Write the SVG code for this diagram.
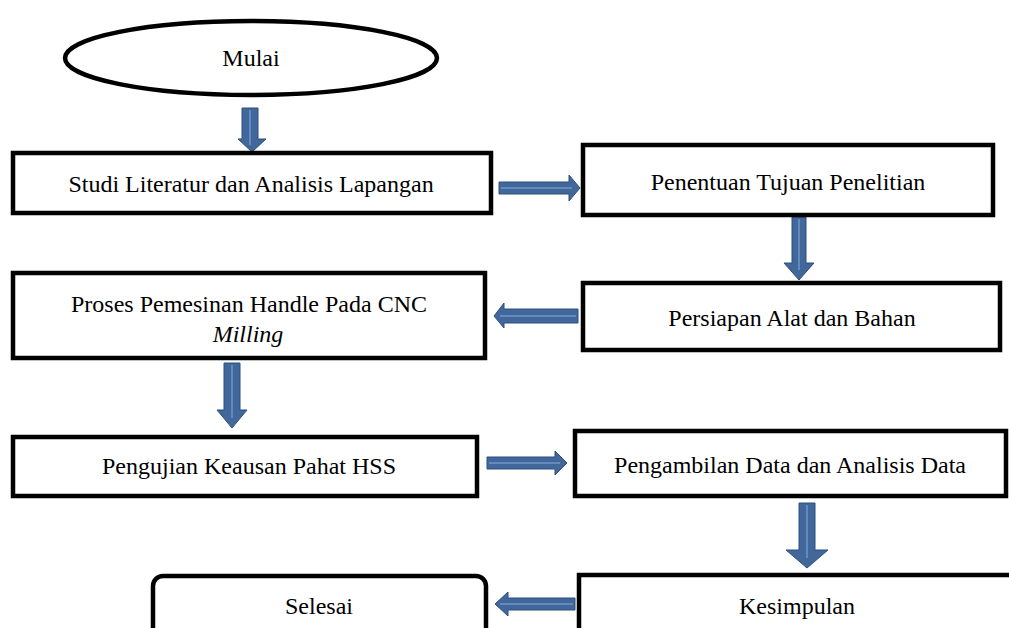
<svg xmlns="http://www.w3.org/2000/svg" width="1009" height="628" viewBox="0 0 1009 628">
<style>
.box{fill:#fff;stroke:#000;stroke-width:4.5}
.t{font-family:'Liberation Serif','Times New Roman',Times,serif;font-size:24px;fill:#000;text-anchor:middle;dominant-baseline:central}
.arr{fill:#41679b;stroke:#2d4f7e;stroke-width:1}
.hl{stroke:#6f95c8;stroke-width:1.5;fill:none}
</style>
<rect width="1009" height="628" fill="#fff"/>
<g id="connectors">
  <g id="a1"><path class="arr" d="M242,108 H258 V139 H266 L252,152 L238,139 H242 Z"/><path class="hl" d="M250,110 V145"/></g>
  <g id="a2"><path class="arr" d="M499,182 H569 V175 L580,188 L569,201 V194 H499 Z"/><path class="hl" d="M501,188 H572"/></g>
  <g id="a3"><path class="arr" d="M792,217 H806 V263 H814 L799,280 L784,263 H792 Z"/><path class="hl" d="M799,219 V270"/></g>
  <g id="a4"><path class="arr" d="M578,309 H504 V303 L494,316 L504,328 V323 H578 Z"/><path class="hl" d="M576,316 H500"/></g>
  <g id="a5"><path class="arr" d="M224,363 H240 V410 H247 L232,428 L217,410 H224 Z"/><path class="hl" d="M232,365 V418"/></g>
  <g id="a6"><path class="arr" d="M487,457 H555 V451 L567,463 L555,475 V469 H487 Z"/><path class="hl" d="M489,463 H560"/></g>
  <g id="a7"><path class="arr" d="M799,503 H815 V550 H828 L807,568 L786,550 H799 Z"/><path class="hl" d="M807,505 V558"/></g>
  <g id="a8"><path class="arr" d="M575,598 H508 V592 L495,604 L508,616 V610 H575 Z"/><path class="hl" d="M573,604 H500"/></g>
</g>
<g id="mulai"><ellipse class="box" cx="251" cy="58" rx="186" ry="37"/><text class="t" x="251" y="58">Mulai</text></g>
<g id="studi"><rect class="box" x="13" y="153" width="478" height="60"/><text class="t" x="251" y="184">Studi Literatur dan Analisis Lapangan</text></g>
<g id="penentuan"><rect class="box" x="583" y="145" width="410" height="70"/><text class="t" x="788" y="182">Penentuan Tujuan Penelitian</text></g>
<g id="persiapan"><rect class="box" x="583" y="283" width="417" height="67"/><text class="t" x="792" y="318">Persiapan Alat dan Bahan</text></g>
<g id="proses"><rect class="box" x="13" y="273" width="472" height="85"/><text class="t" x="249" y="304">Proses Pemesinan Handle Pada CNC</text><text class="t" x="248" y="334" font-style="italic">Milling</text></g>
<g id="pengujian"><rect class="box" x="13" y="437" width="464" height="59"/><text class="t" x="249" y="466">Pengujian Keausan Pahat HSS</text></g>
<g id="pengambilan"><rect class="box" x="575" y="431" width="431" height="65"/><text class="t" x="790" y="465">Pengambilan Data dan Analisis Data</text></g>
<g id="selesai"><rect class="box" x="153" y="576" width="333" height="70" rx="10"/><text class="t" x="319" y="606">Selesai</text></g>
<g id="kesimpulan"><rect class="box" x="579" y="575" width="440" height="70"/><text class="t" x="797" y="606">Kesimpulan</text></g>
</svg>
